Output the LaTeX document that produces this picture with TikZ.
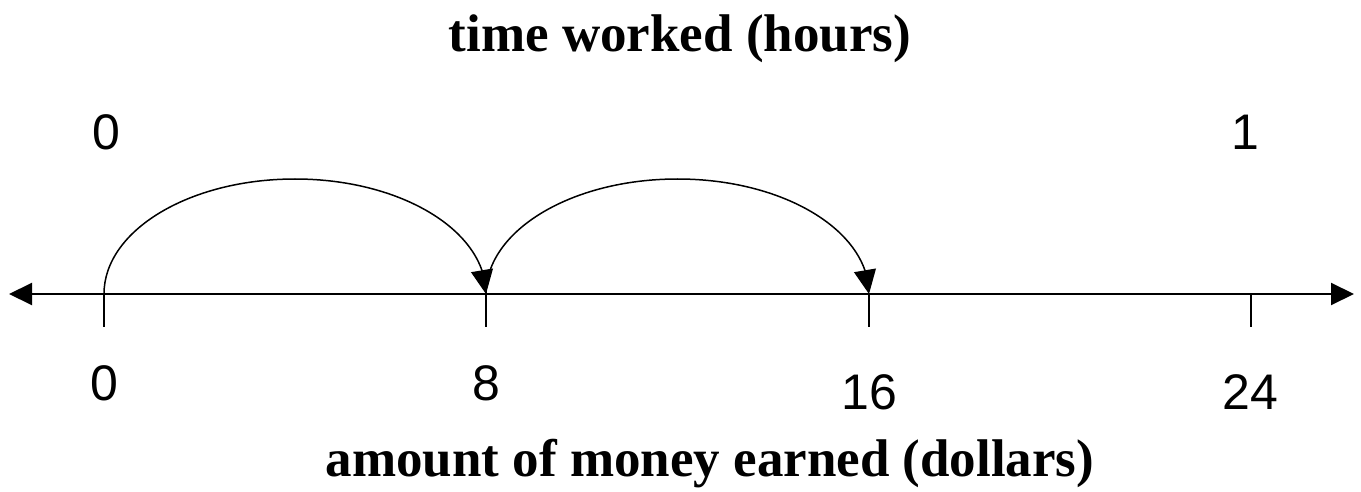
\documentclass[tikz,border=0pt]{standalone}
\usepackage{fontspec}
\setmainfont{Liberation Serif}
\newfontfamily\numfont{Liberation Sans}
\usetikzlibrary{arrows.meta,bending}
\begin{document}
\begin{tikzpicture}[x=1pt,y=-1pt,
  axisline/.style={line width=2pt,
    {Triangle[length=23pt,width=22pt]}-{Triangle[length=23pt,width=22pt]}},
  tickline/.style={line width=1.5pt},
  hop/.style={line width=1.5pt,-{Triangle[length=24pt,width=22pt,flex]}},
  numlabel/.style={font=\numfont\fontsize{50}{50}\selectfont,anchor=base,inner sep=0pt},
  titlelabel/.style={font=\bfseries\fontsize{53}{53}\selectfont,anchor=base,inner sep=0pt}]
\useasboundingbox (0,0) rectangle (1361,492);
\coordinate (left) at (9,294);
\coordinate (right) at (1354,294);
\coordinate (t0) at (104,294);
\coordinate (t8) at (486,294);
\coordinate (t16) at (869,294);
\coordinate (t24) at (1251,294);
\coordinate (b0) at (104,327);
\coordinate (b8) at (486,327);
\coordinate (b16) at (869,327);
\coordinate (b24) at (1251,327);
\draw[axisline] (left) -- (right);
\draw[tickline] (t0) -- (b0);
\draw[tickline] (t8) -- (b8);
\draw[tickline] (t16) -- (b16);
\draw[tickline] (t24) -- (b24);
\draw[hop] (t0) arc[start angle=180,end angle=360,x radius=191,y radius=115];
\draw[hop] (t8) arc[start angle=180,end angle=360,x radius=191.5,y radius=115];
\node[titlelabel] (title) at (680,52) {time worked (hours)};
\node[numlabel] (h0) at (106,150) {0};
\node[numlabel] (h1) at (1245,150) {1};
\node[numlabel] (d0) at (104,400) {0};
\node[numlabel] (d8) at (486,400) {8};
\node[numlabel] (d16) at (869,409) {16};
\node[numlabel] (d24) at (1250,409) {24};
\node[titlelabel] (xtitle) at (710,476) {amount of money earned (dollars)};
\end{tikzpicture}
\end{document}
